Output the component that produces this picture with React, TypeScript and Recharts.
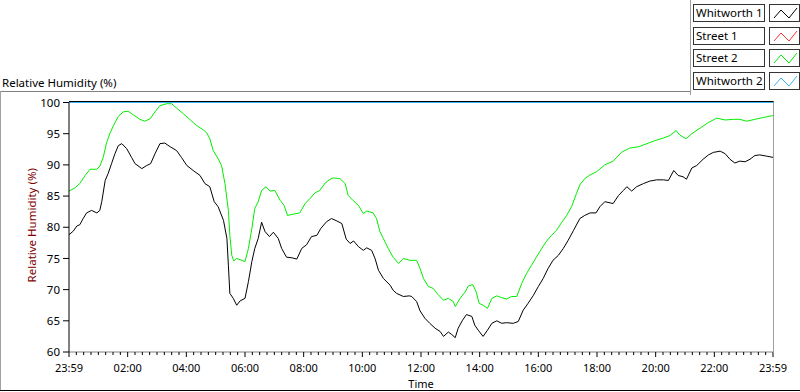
import React from 'react'
import { LineChart, Line, XAxis, YAxis } from 'recharts'

// minutes after 23:59 and relative humidity (%)
const whitworth1Minutes = [
  0, 9, 16, 22, 29, 36, 46, 57, 63, 67, 74, 80, 87, 94, 101, 108, 118, 128, 135, 149,
  159, 167, 176, 186, 196, 207, 220, 230, 241, 254, 268, 278, 288, 297, 305, 316, 323, 326, 329, 336,
  343, 350, 360, 367, 374, 380, 387, 394, 401, 410, 418, 428, 435, 445, 456, 466, 476, 486, 496, 507,
  515, 527, 537, 548, 558, 567, 575, 582, 592, 602, 609, 619, 626, 633, 643, 657, 663, 670, 684, 696,
  701, 711, 718, 728, 738, 749, 759, 766, 776, 783, 790, 796, 805, 813, 824, 830, 837, 847, 856, 865,
  875, 885, 895, 909, 919, 929, 939, 950, 960, 970, 980, 990, 1001, 1011, 1021, 1032, 1045, 1055, 1066, 1078,
  1086, 1096, 1113, 1124, 1134, 1141, 1151, 1161, 1175, 1188, 1202, 1216, 1226, 1237, 1246, 1256, 1263, 1274, 1284, 1297,
  1308, 1318, 1332, 1342, 1352, 1362, 1372, 1383, 1393, 1403, 1413, 1427, 1440,
]
const whitworth1 = [
  78.8, 79.4, 80.2, 80.4, 81.4, 82.3, 82.7, 82.3, 82.7, 84.1, 87.5, 88.6, 90.2, 91.8, 93.1, 93.4, 92.6, 91.2, 90.2, 89.4,
  89.9, 90.2, 91.8, 93.4, 93.5, 92.9, 92.3, 91.2, 89.9, 89.1, 88.3, 87.0, 86.5, 84.1, 83.3, 81.1, 78.2, 73.9, 69.4, 68.6,
  67.5, 68.2, 68.6, 71.3, 74.5, 76.6, 78.2, 80.8, 79.3, 78.5, 79.2, 78.2, 76.6, 75.2, 75.1, 74.9, 76.6, 77.2, 78.5, 78.7,
  79.8, 80.9, 81.4, 81.0, 80.6, 78.1, 77.4, 77.8, 76.9, 76.3, 76.7, 76.3, 75.0, 73.1, 71.8, 70.7, 69.9, 69.4, 68.9, 69.0,
  68.9, 68.1, 66.6, 65.4, 64.6, 63.8, 63.3, 62.5, 63.2, 62.8, 62.3, 63.8, 65.1, 66.0, 65.7, 64.3, 63.5, 62.5, 63.5, 64.6,
  65.0, 64.6, 64.7, 64.6, 64.9, 66.7, 67.8, 69.1, 70.5, 71.8, 73.4, 74.7, 75.5, 76.6, 77.9, 79.5, 81.4, 81.9, 82.3, 82.3,
  83.3, 84.1, 83.8, 85.1, 85.9, 86.5, 85.8, 86.5, 87.0, 87.4, 87.6, 87.6, 87.5, 89.1, 88.3, 88.1, 87.7, 89.5, 89.9, 90.9,
  91.6, 92.0, 92.2, 91.8, 90.9, 90.3, 90.6, 90.5, 90.9, 91.5, 91.6, 91.4, 91.2,
]

const street2Minutes = [
  0, 12, 22, 33, 43, 57, 63, 70, 77, 84, 91, 101, 111, 121, 132, 145, 155, 166, 176, 186,
  200, 210, 220, 234, 247, 261, 275, 282, 288, 295, 305, 312, 319, 326, 329, 333, 337, 343, 350, 360,
  367, 374, 380, 387, 394, 403, 411, 421, 432, 440, 447, 459, 472, 483, 493, 503, 513, 524, 534, 541,
  554, 565, 571, 581, 592, 602, 609, 622, 629, 636, 643, 653, 663, 674, 684, 697, 711, 718, 725, 735,
  745, 755, 766, 776, 786, 790, 800, 810, 817, 826, 833, 839, 847, 856, 865, 875, 885, 895, 905, 916,
  926, 936, 946, 956, 967, 977, 987, 997, 1008, 1018, 1028, 1038, 1045, 1055, 1066, 1079, 1096, 1113, 1130, 1147,
  1165, 1182, 1199, 1216, 1229, 1242, 1249, 1262, 1274, 1291, 1308, 1325, 1342, 1359, 1372, 1386, 1403, 1420, 1440,
]
const street2 = [
  85.8, 86.3, 87.0, 88.3, 89.3, 89.3, 89.8, 91.2, 93.6, 95.1, 96.3, 97.8, 98.5, 98.6, 98.0, 97.3, 97.0, 97.4, 98.5, 99.5,
  99.8, 99.8, 99.1, 98.2, 97.3, 96.3, 95.6, 95.1, 94.2, 92.3, 91.0, 89.9, 87.0, 82.7, 78.7, 75.5, 74.6, 75.0, 74.8, 74.5,
  76.6, 79.8, 83.0, 84.1, 85.9, 86.5, 85.8, 85.9, 84.3, 83.5, 81.9, 82.1, 82.3, 83.8, 84.6, 85.5, 85.9, 87.1, 87.7, 87.9,
  87.8, 87.0, 85.1, 84.3, 83.5, 82.2, 82.6, 82.3, 81.4, 79.3, 78.2, 76.6, 75.2, 74.2, 75.0, 74.7, 74.7, 73.4, 71.8, 70.5,
  70.2, 69.2, 68.3, 68.6, 68.1, 67.3, 68.6, 69.6, 70.6, 70.8, 69.6, 67.8, 67.5, 67.0, 68.6, 69.0, 68.7, 68.5, 68.9, 68.9,
  71.0, 72.6, 73.9, 75.2, 76.6, 77.8, 78.7, 79.5, 80.8, 81.9, 83.3, 85.4, 86.8, 87.8, 88.4, 88.9, 90.0, 90.6, 92.0, 92.7,
  92.9, 93.4, 93.9, 94.3, 94.7, 95.5, 94.8, 94.2, 95.0, 95.9, 96.8, 97.5, 97.2, 97.3, 97.3, 97.0, 97.3, 97.6, 97.9,
]

// Whitworth 2 sits on the 100 % ceiling all day, Street 1 has no samples
const whitworth2Minutes = [0, 1440]
const whitworth2 = [100, 100]

const seriesNames = ['Whitworth 1', 'Street 1', 'Street 2', 'Whitworth 2']
const seriesColors = ['#000000', '#ff3030', '#00ee00', '#3cb4f0']

const yTicks = [60, 65, 70, 75, 80, 85, 90, 95, 100]
const xTickLabels = ['23:59', '02:00', '04:00', '06:00', '08:00', '10:00', '12:00', '14:00', '16:00', '18:00', '20:00', '22:00', '23:59']

const toPoints = (mins: number[], vals: number[]) => mins.map((t, i) => ({ t, v: vals[i] }))

const FONT = "'Noto Sans', sans-serif"

// a tick every 15 minutes, label on every second hour
const xTicks: number[] = []
for (let m = 0; m <= 1440; m += 15) xTicks.push(m)

const XTick = ({ x, y, payload }: any) => {
  const major = payload.value % 120 === 0
  return (
    <g>
      <line x1={x} x2={x} y1={y} y2={y + (major ? 5 : 3)} stroke="#000" strokeWidth={1} />
      {major && (
        <text x={x} y={y + 20} textAnchor="middle" fontSize={11} fontFamily={FONT} fill="#000">
          {xTickLabels[payload.value / 120]}
        </text>
      )}
    </g>
  )
}

const YLabel = ({ viewBox }: any) => {
  const cx = 31
  const cy = viewBox.y + viewBox.height / 2 - 2
  return (
    <text x={cx} y={cy} transform={`rotate(-90 ${cx} ${cy})`} textAnchor="middle" dominantBaseline="central"
      fontSize={11.5} fontFamily={FONT} fill="#800000">
      Relative Humidity (%)
    </text>
  )
}

const XLabel = ({ viewBox }: any) => (
  <text x={viewBox.x + viewBox.width / 2} y={388} textAnchor="middle" fontSize={11} fontFamily={FONT} fill="#000">
    Time
  </text>
)

const LegendBox = () => (
  <div style={{ position: 'absolute', left: 690, top: 0, width: 110, height: 95, borderLeft: '1px solid #a0a0a0' }}>
    {seriesNames.map((name, i) => (
      <div key={name} style={{ position: 'absolute', left: 2, top: 4 + i * 22.7, height: 18, display: 'flex' }}>
        <div style={{
          width: 68, height: 16, border: '1px solid #333', background: '#fff', fontFamily: FONT, fontSize: 11.5,
          lineHeight: '16px', paddingLeft: 2, color: '#000', whiteSpace: 'nowrap', boxSizing: 'content-box',
        }}>
          {name}
        </div>
        <svg width={31} height={18} style={{ marginLeft: 4, border: '1px solid #333', background: '#fff', boxSizing: 'border-box' }}>
          <polyline points="4,13 11,5 19,13 27,3" fill="none" stroke={seriesColors[i]} strokeWidth={1} />
        </svg>
      </div>
    ))}
  </div>
)

export default function App() {
  const seriesData = [
    toPoints(whitworth1Minutes, whitworth1),
    [],
    toPoints(street2Minutes, street2),
    toPoints(whitworth2Minutes, whitworth2),
  ]
  return (
    <div style={{ position: 'absolute', left: 0, top: 0, width: 800, height: 392, background: '#fff', fontFamily: FONT }}>
      <div style={{ position: 'absolute', left: 2, top: 75, fontSize: 11.5, color: '#000', whiteSpace: 'nowrap' }}>
        Relative Humidity (%)
      </div>
      {/* panel frame */}
      <div style={{ position: 'absolute', left: 0, top: 91, width: 690, height: 0, borderTop: '1px solid #808080' }} />
      <div style={{ position: 'absolute', left: 0, top: 91, width: 0, height: 299, borderLeft: '1px solid #a0a0a0' }} />
      <div style={{ position: 'absolute', left: 0, top: 390, width: 800, height: 0, borderTop: '1px solid #000' }} />

      <LineChart width={800} height={392} margin={{ top: 102.5, right: 27, left: 19, bottom: 2 }}>
        <XAxis
          type="number"
          dataKey="t"
          domain={[0, 1440]}
          ticks={xTicks}
          interval={0}
          height={38}
          tickSize={0}
          tickMargin={0}
          tickLine={false}
          tick={<XTick />}
          axisLine={{ stroke: '#808080' }}
          label={<XLabel />}
        />
        <YAxis
          type="number"
          dataKey="v"
          domain={[60, 100]}
          ticks={yTicks}
          interval={0}
          width={50}
          tickSize={6}
          tickMargin={3}
          tickLine={{ stroke: '#000' }}
          axisLine={{ stroke: '#000' }}
          tick={{ fill: '#000', fontSize: 11.5, fontFamily: FONT }}
          label={<YLabel />}
        />
        {seriesNames.map((name, i) => (
          <Line key={name} data={seriesData[i]} dataKey="v" name={name} stroke={seriesColors[i]}
            strokeWidth={1} dot={false} type="linear" isAnimationActive={false} />
        ))}
      </LineChart>

      <LegendBox />

      {/* plot frame: dark top edge, light right edge */}
      <div style={{
        position: 'absolute', left: 69, top: 101, width: 704, height: 251, borderTop: '1px solid #000',
        borderRight: '1px solid #a0a0a0', pointerEvents: 'none',
      }} />
    </div>
  )
}
